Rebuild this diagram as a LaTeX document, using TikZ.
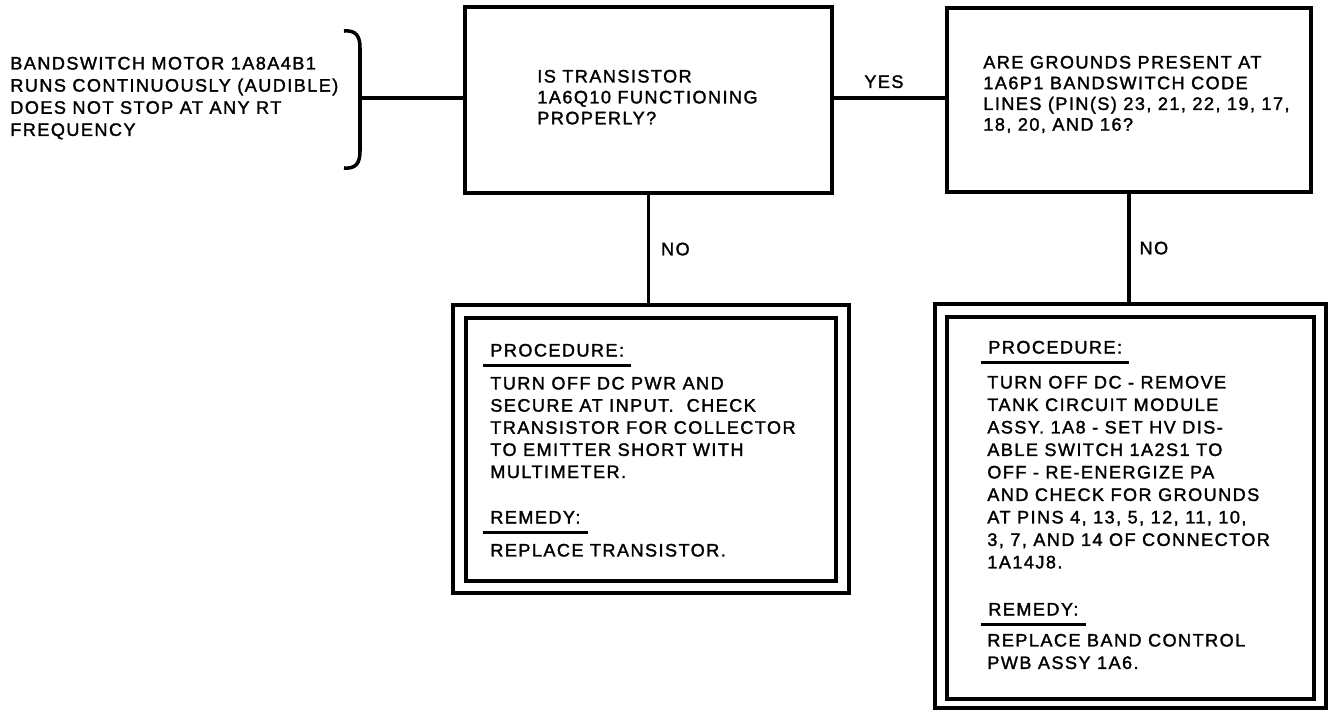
\documentclass[tikz,border=0pt]{standalone}
\usepackage{fontspec}
\setmainfont[LetterSpace=8,FakeBold=1.6]{Liberation Sans}
\usetikzlibrary{positioning,calc}
\tikzset{
  qbox/.style={draw,line width=2pt,minimum width=7.34cm,minimum height=3.72cm,inner sep=0pt},
  procout/.style={draw,line width=2pt,inner sep=0pt},
  procin/.style={draw,line width=2.3pt,inner sep=0pt},
  txt/.style={anchor=north west,inner sep=0pt,align=left,font=\fontsize{10.3}{12.6}\selectfont},
  qtxt/.style={txt,font=\fontsize{10.3}{11.9}\selectfont},
  head/.style={anchor=base west,inner xsep=0.14cm,inner ysep=0.17cm,text depth=0pt,
               font=\fontsize{10.3}{12}\selectfont},
  lbl/.style={inner sep=0pt,text depth=0pt,font=\fontsize{10.3}{12}\selectfont},
  link/.style={line width=1.8pt},
  rule/.style={line width=1.7pt}
}
\begin{document}
\begin{tikzpicture}[x=0.02cm,y=-0.02cm]
  \useasboundingbox (0,0) rectangle (1332,710);
  \node[txt] (symptom) at (10,56.5) {BANDSWITCH MOTOR 1A8A4B1\\RUNS CONTINUOUSLY (AUDIBLE)\\DOES NOT STOP AT ANY RT\\FREQUENCY};
  \draw[line width=2pt] (344,31) .. controls (356,30) and (360,36) .. (360,48) -- (360,151)
    .. controls (360,163) and (356,169) .. (344,168);
  \coordinate (brace) at (360,98);

  \node[qbox] (q1) at (648.5,100) {};
  \node[qtxt] (q1txt) at (537,69.5) {IS TRANSISTOR\\1A6Q10 FUNCTIONING\\PROPERLY?};
  \node[qbox,minimum width=7.28cm,minimum height=3.68cm] (q2) at (1129,100) {};
  \node[qtxt,font=\fontsize{10.3}{11.8}\selectfont] (q2txt) at (983,55.5)
    {ARE GROUNDS PRESENT AT\\1A6P1 BANDSWITCH CODE\\LINES (PIN(S) 23, 21, 22, 19, 17,\\18, 20, AND 16?};

  \node[procout,minimum width=7.92cm,minimum height=5.76cm] (p1out) at (651,449) {};
  \node[procin,minimum width=7.4cm,minimum height=5.26cm] (p1in) at (651,449.5) {};
  \node[head] (p1head) at (483,356.5) {PROCEDURE:};
  \draw[rule] (p1head.south west) -- (p1head.south east);
  \node[txt] (p1body) at (490,376.5) {TURN OFF DC PWR AND\\SECURE AT INPUT.\ \ CHECK\\TRANSISTOR FOR COLLECTOR\\TO EMITTER SHORT WITH\\MULTIMETER.};
  \node[head] (p1rhead) at (483,523.5) {REMEDY:};
  \draw[rule] (p1rhead.south west) -- (p1rhead.south east);
  \node[txt] (p1rem) at (490,543.5) {REPLACE TRANSISTOR.};

  \node[procout,minimum width=7.82cm,minimum height=8.08cm] (p2out) at (1130.5,506) {};
  \node[procin,minimum width=7.34cm,minimum height=7.64cm] (p2in) at (1130.5,508) {};
  \node[head] (p2head) at (981,353.5) {PROCEDURE:};
  \draw[rule] (p2head.south west) -- (p2head.south east);
  \node[txt,font=\fontsize{10.3}{12.8}\selectfont] (p2body) at (987,375.5)
    {TURN OFF DC - REMOVE\\TANK CIRCUIT MODULE\\ASSY. 1A8 - SET HV DIS-\\ABLE SWITCH 1A2S1 TO\\OFF - RE-ENERGIZE PA\\AND CHECK FOR GROUNDS\\AT PINS 4, 13, 5, 12, 11, 10,\\3, 7, AND 14 OF CONNECTOR\\1A14J8.};
  \node[head] (p2rhead) at (981,615.5) {REMEDY:};
  \draw[rule] (p2rhead.south west) -- (p2rhead.south east);
  \node[txt,font=\fontsize{10.3}{12.8}\selectfont] (p2rem) at (987,633.5) {REPLACE BAND CONTROL\\PWB ASSY 1A6.};

  \draw[link] (brace) -- (brace -| q1.west);
  \draw[link] (q1.east |- brace) -- (q2.west |- brace) node[lbl,pos=0.45,above=0.17cm] {YES};
  \draw[link] (q1.south) -- (q1.south |- p1out.north) node[lbl,midway,right=0.22cm] {NO};
  \draw[link] (q2.south) -- (q2.south |- p2out.north) node[lbl,midway,right=0.18cm] {NO};
\end{tikzpicture}
\end{document}
